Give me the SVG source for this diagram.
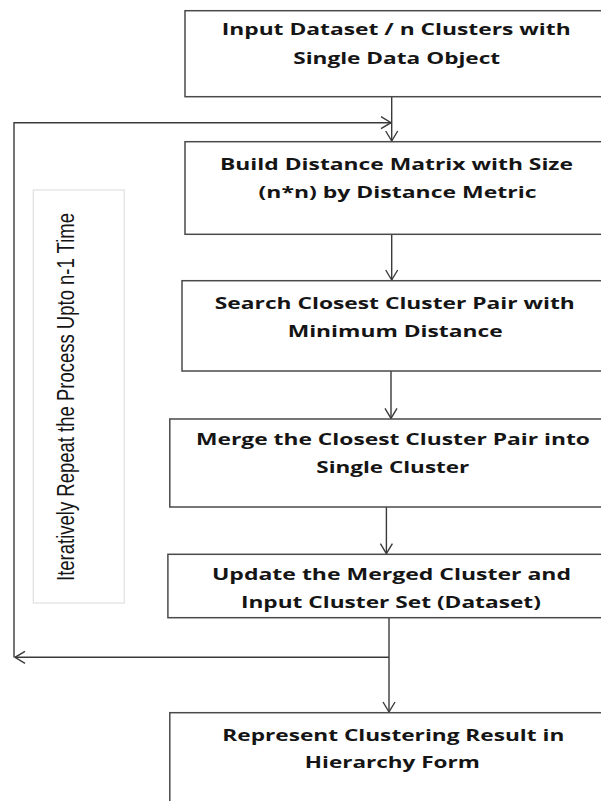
<svg xmlns="http://www.w3.org/2000/svg" width="601" height="801" viewBox="0 0 601 801">
<style>
.box{fill:#fff;stroke:#4a4a4a;stroke-width:1.5}
.t{font-family:"Open Sans","Liberation Sans",sans-serif;font-weight:bold;font-size:15.5px;fill:#151515;text-anchor:middle}
.c{fill:none;stroke:#3a3a3a;stroke-width:1.4}
.lbl{font-family:"Liberation Sans","Open Sans",sans-serif;font-size:17px;fill:#151515;text-anchor:middle}
</style>
<defs>
<marker id="ah" markerUnits="userSpaceOnUse" markerWidth="14" markerHeight="14" viewBox="-12 -7 14 14" refX="0" refY="0" orient="auto">
<path d="M-10,-6 L0,0 L-10,6" fill="none" stroke="#3a3a3a" stroke-width="1.4"/>
</marker>
</defs>
<rect width="601" height="801" fill="#fff"/>
<g id="loop-label">
<rect x="33.3" y="190" width="91" height="413" fill="#fff" stroke="#e2e2e2" stroke-width="1.3"/>
<text class="lbl" transform="translate(74.3,397) rotate(-90) scale(1,1.4)" x="0" y="0" textLength="368" lengthAdjust="spacingAndGlyphs">Iteratively Repeat the Process Upto n-1 Time</text>
</g>
<g id="connectors">
<path class="c" d="M391.7,96.7 V141" marker-end="url(#ah)"/>
<path class="c" d="M14,657.3 V122.7 H391" marker-end="url(#ah)"/>
<path class="c" d="M391.7,234.3 V280" marker-end="url(#ah)"/>
<path class="c" d="M391,371 V418.3" marker-end="url(#ah)"/>
<path class="c" d="M386.4,507 V553.6" marker-end="url(#ah)"/>
<path class="c" d="M389,617.7 V712" marker-end="url(#ah)"/>
<path class="c" d="M389,657.3 H15" marker-end="url(#ah)"/>
</g>
<g id="n1">
<rect class="box" x="185" y="10.7" width="440" height="86"/>
<text class="t" x="396.2" y="35" textLength="349" lengthAdjust="spacingAndGlyphs">Input Dataset / n Clusters with</text>
<text class="t" x="396.7" y="64" textLength="207" lengthAdjust="spacingAndGlyphs">Single Data Object</text>
</g>
<g id="n2">
<rect class="box" x="185" y="141.7" width="440" height="92.6"/>
<text class="t" x="396.5" y="170" textLength="353" lengthAdjust="spacingAndGlyphs">Build Distance Matrix with Size</text>
<text class="t" x="397.5" y="198" textLength="278" lengthAdjust="spacingAndGlyphs">(n*n) by Distance Metric</text>
</g>
<g id="n3">
<rect class="box" x="182" y="280.7" width="440" height="90.3"/>
<text class="t" x="394.8" y="309.3" textLength="360" lengthAdjust="spacingAndGlyphs">Search Closest Cluster Pair with</text>
<text class="t" x="395.2" y="337.3" textLength="215" lengthAdjust="spacingAndGlyphs">Minimum Distance</text>
</g>
<g id="n4">
<rect class="box" x="169.8" y="419" width="450" height="88"/>
<text class="t" x="393" y="445" textLength="394" lengthAdjust="spacingAndGlyphs">Merge the Closest Cluster Pair into</text>
<text class="t" x="392.8" y="473.3" textLength="153" lengthAdjust="spacingAndGlyphs">Single Cluster</text>
</g>
<g id="n5">
<rect class="box" x="167.9" y="554.3" width="450" height="63.4"/>
<text class="t" x="391.5" y="580" textLength="359" lengthAdjust="spacingAndGlyphs">Update the Merged Cluster and</text>
<text class="t" x="390.9" y="608.3" textLength="300" lengthAdjust="spacingAndGlyphs">Input Cluster Set (Dataset)</text>
</g>
<g id="n6">
<rect class="box" x="169.8" y="712.7" width="450" height="110"/>
<text class="t" x="393.3" y="740.7" textLength="342" lengthAdjust="spacingAndGlyphs">Represent Clustering Result in</text>
<text class="t" x="392.3" y="768.3" textLength="175" lengthAdjust="spacingAndGlyphs">Hierarchy Form</text>
</g>
</svg>
